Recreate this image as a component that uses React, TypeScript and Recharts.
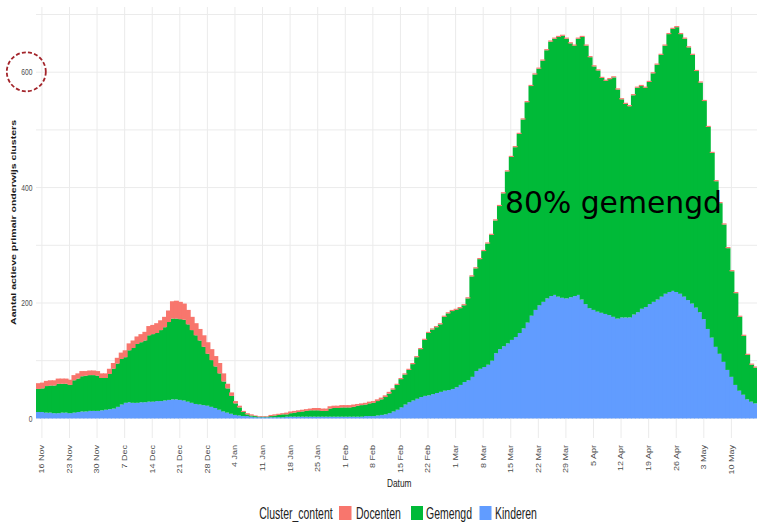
import React from 'react';
import { BarChart, Bar, XAxis, YAxis, CartesianGrid } from 'recharts';

// daily counts, first bar = 15 Nov 2020
const firstDay = Date.UTC(2020, 10, 15);
const monthNames = ['Jan', 'Feb', 'Mar', 'Apr', 'May', 'Jun', 'Jul', 'Aug', 'Sep', 'Oct', 'Nov', 'Dec'];

const kinderen = [
  11, 11, 10, 10, 9, 9, 10, 10, 9, 10,
  11, 12, 12, 13, 13, 13, 14, 15, 16, 17,
  20, 24, 27, 28, 27, 27, 28, 28, 29, 29,
  30, 30, 31, 32, 33, 33, 32, 31, 29, 27,
  25, 24, 23, 22, 20, 18, 15, 12, 10, 8,
  6, 5, 4, 4, 3, 2, 2, 2, 2, 2,
  2, 2, 2, 3, 3, 3, 3, 3, 3, 3,
  3, 3, 3, 3, 3, 3, 3, 3, 3, 3,
  3, 3, 3, 4, 4, 4, 5, 6, 7, 9,
  12, 15, 19, 24, 28, 31, 34, 37, 39, 40,
  42, 44, 46, 48, 49, 51, 54, 58, 63, 66,
  72, 82, 86, 89, 93, 100, 113, 120, 125, 130,
  136, 141, 148, 156, 166, 178, 188, 196, 202, 208,
  212, 214, 211, 209, 208, 210, 212, 214, 206, 198,
  191, 188, 185, 183, 181, 179, 176, 173, 175, 175,
  175, 180, 184, 190, 193, 198, 202, 206, 211, 216,
  219, 221, 219, 216, 211, 205, 199, 192, 184, 172,
  155, 140, 124, 112, 98, 84, 72, 58, 48, 41,
  33, 29, 26,
];

const gemengd = [
  40, 41, 46, 47, 48, 51, 50, 50, 49, 56,
  58, 61, 62, 62, 62, 61, 56, 55, 61, 69,
  75, 79, 79, 90, 95, 102, 104, 107, 115, 117,
  118, 123, 127, 135, 140, 140, 140, 140, 134, 126,
  119, 111, 101, 90, 81, 72, 63, 52, 42, 31,
  20, 14, 7, 3, 2, 2, 1, 1, 1, 2,
  3, 4, 5, 4, 6, 7, 8, 9, 10, 11,
  11, 11, 10, 10, 14, 15, 15, 16, 16, 16,
  17, 19, 20, 20, 22, 23, 25, 27, 30, 34,
  38, 43, 49, 52, 56, 63, 72, 83, 97, 108,
  112, 114, 117, 128, 133, 135, 134, 133, 133, 142,
  174, 178, 190, 201, 210, 218, 230, 248, 265, 298,
  317, 329, 345, 362, 382, 398, 408, 410, 418, 430,
  441, 444, 450, 454, 450, 440, 434, 444, 455, 448,
  435, 422, 418, 407, 404, 409, 415, 397, 378, 370,
  366, 380, 389, 386, 380, 385, 396, 407, 419, 430,
  447, 454, 459, 450, 447, 438, 431, 410, 398, 378,
  350, 320, 287, 261, 238, 211, 183, 159, 128, 102,
  77, 64, 62,
];

const docenten = [
  10, 10, 9, 9, 9, 9, 9, 9, 9, 9,
  9, 9, 8, 8, 8, 8, 8, 8, 9, 10,
  10, 11, 12, 12, 13, 13, 14, 15, 16, 16,
  17, 17, 18, 20, 30, 31, 30, 28, 25, 23,
  21, 20, 20, 20, 19, 18, 18, 14, 8, 6,
  4, 3, 2, 2, 2, 1, 1, 1, 1, 2,
  2, 2, 2, 3, 3, 3, 3, 3, 3, 3,
  4, 4, 4, 4, 4, 4, 4, 4, 4, 4,
  4, 3, 3, 3, 3, 3, 3, 3, 3, 3,
  2, 2, 2, 2, 2, 2, 2, 2, 2, 2,
  2, 2, 2, 2, 2, 2, 2, 2, 2, 2,
  2, 2, 2, 2, 2, 2, 2, 2, 2, 2,
  2, 2, 2, 2, 2, 2, 2, 2, 2, 2,
  2, 2, 2, 2, 2, 2, 2, 2, 2, 2,
  2, 2, 2, 2, 2, 2, 2, 2, 2, 2,
  2, 2, 2, 2, 2, 2, 2, 2, 2, 2,
  2, 2, 2, 2, 2, 2, 2, 2, 2, 2,
  2, 2, 2, 2, 2, 2, 2, 2, 2, 2,
  2, 2, 2,
];

const tickLabels = [
  '16 Nov', '23 Nov', '30 Nov', '7 Dec', '14 Dec', '21 Dec', '28 Dec',
  '4 Jan', '11 Jan', '18 Jan', '25 Jan', '1 Feb', '8 Feb', '15 Feb', '22 Feb',
  '1 Mar', '8 Mar', '15 Mar', '22 Mar', '29 Mar', '5 Apr', '12 Apr', '19 Apr',
  '26 Apr', '3 May', '10 May',
];
const yTicks = [0, 200, 400, 600];
const yGrid = [0, 100, 200, 300, 400, 500, 600, 700];

const COLORS = { Docenten: '#F8766D', Gemengd: '#00BA38', Kinderen: '#619CFF' };
const FONT = "'Liberation Sans', Arial, sans-serif";

const dayLabel = (i: number) => {
  const dt = new Date(firstDay + i * 86400000);
  return `${dt.getUTCDate()} ${monthNames[dt.getUTCMonth()]}`;
};

const data = kinderen.map((k, i) => ({
  datum: dayLabel(i),
  Kinderen: k,
  Gemengd: gemengd[i],
  Docenten: docenten[i],
}));

const shownTicks = new Set(tickLabels);

// day bars drawn a bit wider so neighbours touch (reads like ggplot's geom_col width = 1)
const DayBar = (props: any) => {
  const { x, y, width, height, fill } = props;
  if (!height || height <= 0) return null;
  return <rect x={x} y={y} width={width + 1} height={height} fill={fill} />;
};

const XTick = (props: any) => {
  const { x, payload } = props;
  if (!shownTicks.has(payload.value)) return null;
  return (
    <text
      transform={`translate(${x + 2.4},445) scale(0.75,1) rotate(-90)`}
      textAnchor="end"
      fontSize={9}
      fontFamily={FONT}
      fill="#4d4d4d"
    >
      {payload.value}
    </text>
  );
};

const YTick = (props: any) => {
  const { y, payload } = props;
  return (
    <text
      transform={`translate(32.5,${y}) scale(0.72,1)`}
      textAnchor="end"
      dy="0.35em"
      fontSize={9.3}
      fontFamily={FONT}
      fill="#4d4d4d"
    >
      {payload.value}
    </text>
  );
};

// legend text is squeezed sideways in the reference
const LegendText = ({ x, children }: { x: number; children: string }) => (
  <text transform={`translate(${x},519.3) scale(0.655,1)`} fontSize={16} fontFamily={FONT} fill="#222">
    {children}
  </text>
);

const Overlay = () => (
  <svg
    width={757}
    height={522}
    style={{ position: 'absolute', left: 0, top: 0, pointerEvents: 'none' }}
  >
    <text
      transform="translate(15.5,222.5) scale(0.72,1) rotate(-90)"
      textAnchor="middle"
      fontSize={10.5}
      fontWeight="bold"
      fontFamily={FONT}
      fill="#1a1a1a"
      textLength={205}
      lengthAdjust="spacingAndGlyphs"
    >
      Aantal actieve primair onderwijs clusters
    </text>
    <circle cx={26.3} cy={71.8} r={19.5} fill="none" stroke="#a3242a" strokeWidth={1.8} strokeDasharray="4 2.2" />
    <text
      transform="translate(399.2,486.7) scale(0.72,1)"
      textAnchor="middle"
      fontSize={11.6}
      fontFamily={FONT}
      fill="#222"
    >
      Datum
    </text>
    <LegendText x={259.3}>Cluster_content</LegendText>
    <rect x={339} y={506} width={12.5} height={14} fill={COLORS.Docenten} />
    <LegendText x={356}>Docenten</LegendText>
    <rect x={411} y={506} width={12} height={14} fill={COLORS.Gemengd} />
    <LegendText x={426}>Gemengd</LegendText>
    <rect x={479.5} y={506} width={12} height={14} fill={COLORS.Kinderen} />
    <LegendText x={495}>Kinderen</LegendText>
    <text
      x={505}
      y={213.3}
      fontSize={29.6}
      fontFamily="'DejaVu Sans', sans-serif"
      fill="#000"
      textLength={217}
      lengthAdjust="spacingAndGlyphs"
    >
      80% gemengd
    </text>
  </svg>
);

export default function App() {
  return (
    <div style={{ position: 'absolute', left: 0, top: 0, width: 757, height: 522, overflow: 'hidden', background: '#fff' }}>
      <BarChart
        width={757}
        height={522}
        data={data}
        margin={{ top: 7, right: 0, bottom: 0, left: 0 }}
        barCategoryGap={0}
        barGap={0}
      >
        <CartesianGrid
          stroke="#ebebeb"
          strokeWidth={1}
          horizontalValues={yGrid}
          verticalValues={tickLabels}
        />
        <XAxis
          dataKey="datum"
          interval={0}
          tickLine={false}
          axisLine={false}
          height={84}
          tick={<XTick />}
        />
        <YAxis
          domain={[-34, 713]}
          ticks={yTicks}
          width={36}
          tickLine={false}
          axisLine={false}
          tickSize={0}
          tick={<YTick />}
        />
        <Bar dataKey="Kinderen" stackId="c" fill={COLORS.Kinderen} shape={<DayBar />} isAnimationActive={false} />
        <Bar dataKey="Gemengd" stackId="c" fill={COLORS.Gemengd} shape={<DayBar />} isAnimationActive={false} />
        <Bar dataKey="Docenten" stackId="c" fill={COLORS.Docenten} shape={<DayBar />} isAnimationActive={false} />
      </BarChart>
      <Overlay />
    </div>
  );
}
